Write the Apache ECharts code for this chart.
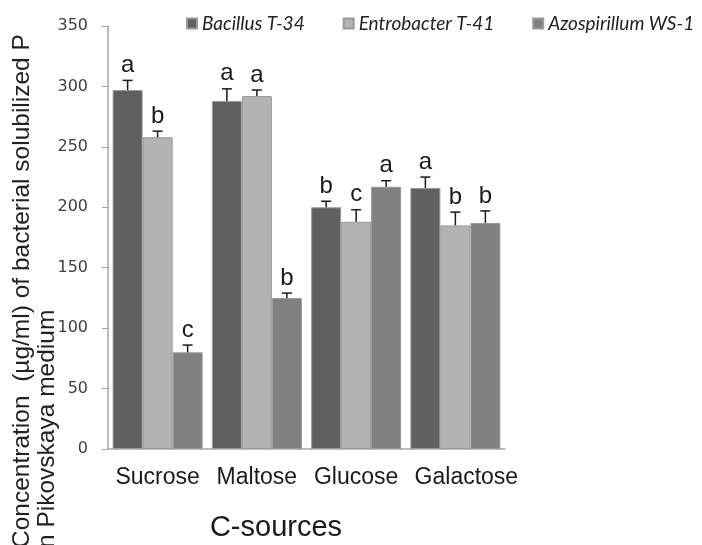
<!DOCTYPE html>
<html>
<head>
<meta charset="utf-8">
<script src="https://cdn.jsdelivr.net/npm/echarts@6/dist/echarts.min.js"></script>
<style>
  html, body { margin: 0; padding: 0; background: #fff; }
  #main { width: 702px; height: 545px; }
</style>
</head>
<body>
<div id="main"></div>
<script>
// C-sources and the three strains
let categories = ['Sucrose', 'Maltose', 'Glucose', 'Galactose']
let seriesNames = ['Bacillus T-34', 'Entrobacter T-41', 'Azospirillum WS-1']

// mean concentration (µg/ml)
let bacillus = [297, 288, 200, 216]
let entrobacter = [258, 292, 188, 185]
let azospirillum = [80, 125, 217, 187]

// + error bar
let bacillusErr = [8, 10, 5, 9]
let entrobacterErr = [5, 5, 10, 11]
let azospirillumErr = [6, 4, 5, 10]

// significance letters
let bacillusSig = ['a', 'a', 'b', 'a']
let entrobacterSig = ['b', 'a', 'c', 'b']
let azospirillumSig = ['c', 'b', 'a', 'b']

let yMin = 0
let yMax = 350
let yStep = 50

let colors = ['#606060', '#b3b3b3', '#808080']
let barW = 30

let myChart = echarts.init(document.getElementById('main'))

function barSeries (name, values, color) {
  return {
    name: name,
    type: 'bar',
    barWidth: barW,
    barGap: '0%',
    data: values,
    itemStyle: {
      color: color,
      borderColor: '#9a9a9a',
      borderWidth: 1
    }
  }
}

// error bar (upper only) + letter above it
function errSeries (values, errs, sigs, offset) {
  return {
    type: 'custom',
    z: 10,
    silent: true,
    data: values.map(function (v, i) { return [i, v, errs[i]] }),
    renderItem: function (params, api) {
      let i = api.value(0)
      let base = api.coord([i, api.value(1)])
      let hi = api.coord([i, api.value(1) + api.value(2)])
      let x = base[0] + offset
      return {
        type: 'group',
        children: [
          { type: 'line', shape: { x1: x, y1: base[1], x2: x, y2: hi[1] }, style: { stroke: '#1a1a1a', lineWidth: 1.5 } },
          { type: 'line', shape: { x1: x - 5, y1: hi[1], x2: x + 5, y2: hi[1] }, style: { stroke: '#1a1a1a', lineWidth: 1.5 } },
          {
            type: 'text',
            x: x,
            y: hi[1] - 3,
            style: {
              text: sigs[params.dataIndex],
              font: '24px "Liberation Sans"',
              fill: '#1a1a1a',
              align: 'center',
              verticalAlign: 'bottom'
            }
          }
        ]
      }
    }
  }
}

let option = {
  animation: false,
  legend: {
    data: seriesNames,
    left: 181,
    top: 9,
    itemWidth: 10,
    itemHeight: 10,
    itemGap: 38,
    icon: 'rect',
    textStyle: {
      fontFamily: 'Lato',
      fontStyle: 'italic',
      fontSize: 19,
      color: '#222'
    }
  },
  grid: {
    left: 108,
    right: 197,
    top: 26,
    bottom: 96
  },
  xAxis: {
    type: 'category',
    data: categories,
    axisLine: { lineStyle: { color: '#a6a6a6', width: 1.5 } },
    axisTick: { show: false },
    axisLabel: {
      interval: 0,
      margin: 17,
      fontFamily: 'Liberation Sans',
      fontSize: 23,
      color: '#1a1a1a',
      formatter: function (v, i) {
        return i === 3 ? '{g|' + v + '}' : v
      },
      rich: {
        g: { fontFamily: 'Liberation Sans', fontSize: 23, color: '#1a1a1a', padding: [0, 0, 0, 22] }
      }
    }
  },
  yAxis: {
    type: 'value',
    min: yMin,
    max: yMax,
    interval: yStep,
    splitLine: { show: false },
    axisLine: { show: true, lineStyle: { color: '#a6a6a6', width: 1.5 } },
    axisTick: { show: true, length: 6, lineStyle: { color: '#a6a6a6' } },
    axisLabel: {
      margin: 20,
      fontFamily: 'DejaVu Sans',
      fontSize: 16,
      color: '#404040'
    }
  },
  graphic: [
    {
      type: 'text',
      x: 10,
      y: 548,
      rotation: Math.PI / 2,
      style: {
        text: 'Concentration  (µg/ml) of bacterial solubilized P\nn Pikovskaya medium',
        font: '24.5px "Liberation Sans"',
        lineHeight: 25,
        fill: '#222',
        align: 'left',
        verticalAlign: 'top'
      }
    },
    {
      type: 'text',
      x: 276,
      y: 528,
      style: {
        text: 'C-sources',
        font: '29px "Liberation Sans"',
        fill: '#1a1a1a',
        align: 'center',
        verticalAlign: 'middle'
      }
    }
  ],
  series: [
    barSeries(seriesNames[0], bacillus, colors[0]),
    barSeries(seriesNames[1], entrobacter, colors[1]),
    barSeries(seriesNames[2], azospirillum, colors[2]),
    errSeries(bacillus, bacillusErr, bacillusSig, -barW),
    errSeries(entrobacter, entrobacterErr, entrobacterSig, 0),
    errSeries(azospirillum, azospirillumErr, azospirillumSig, barW)
  ]
}

myChart.setOption(option)
</script>
</body>
</html>
